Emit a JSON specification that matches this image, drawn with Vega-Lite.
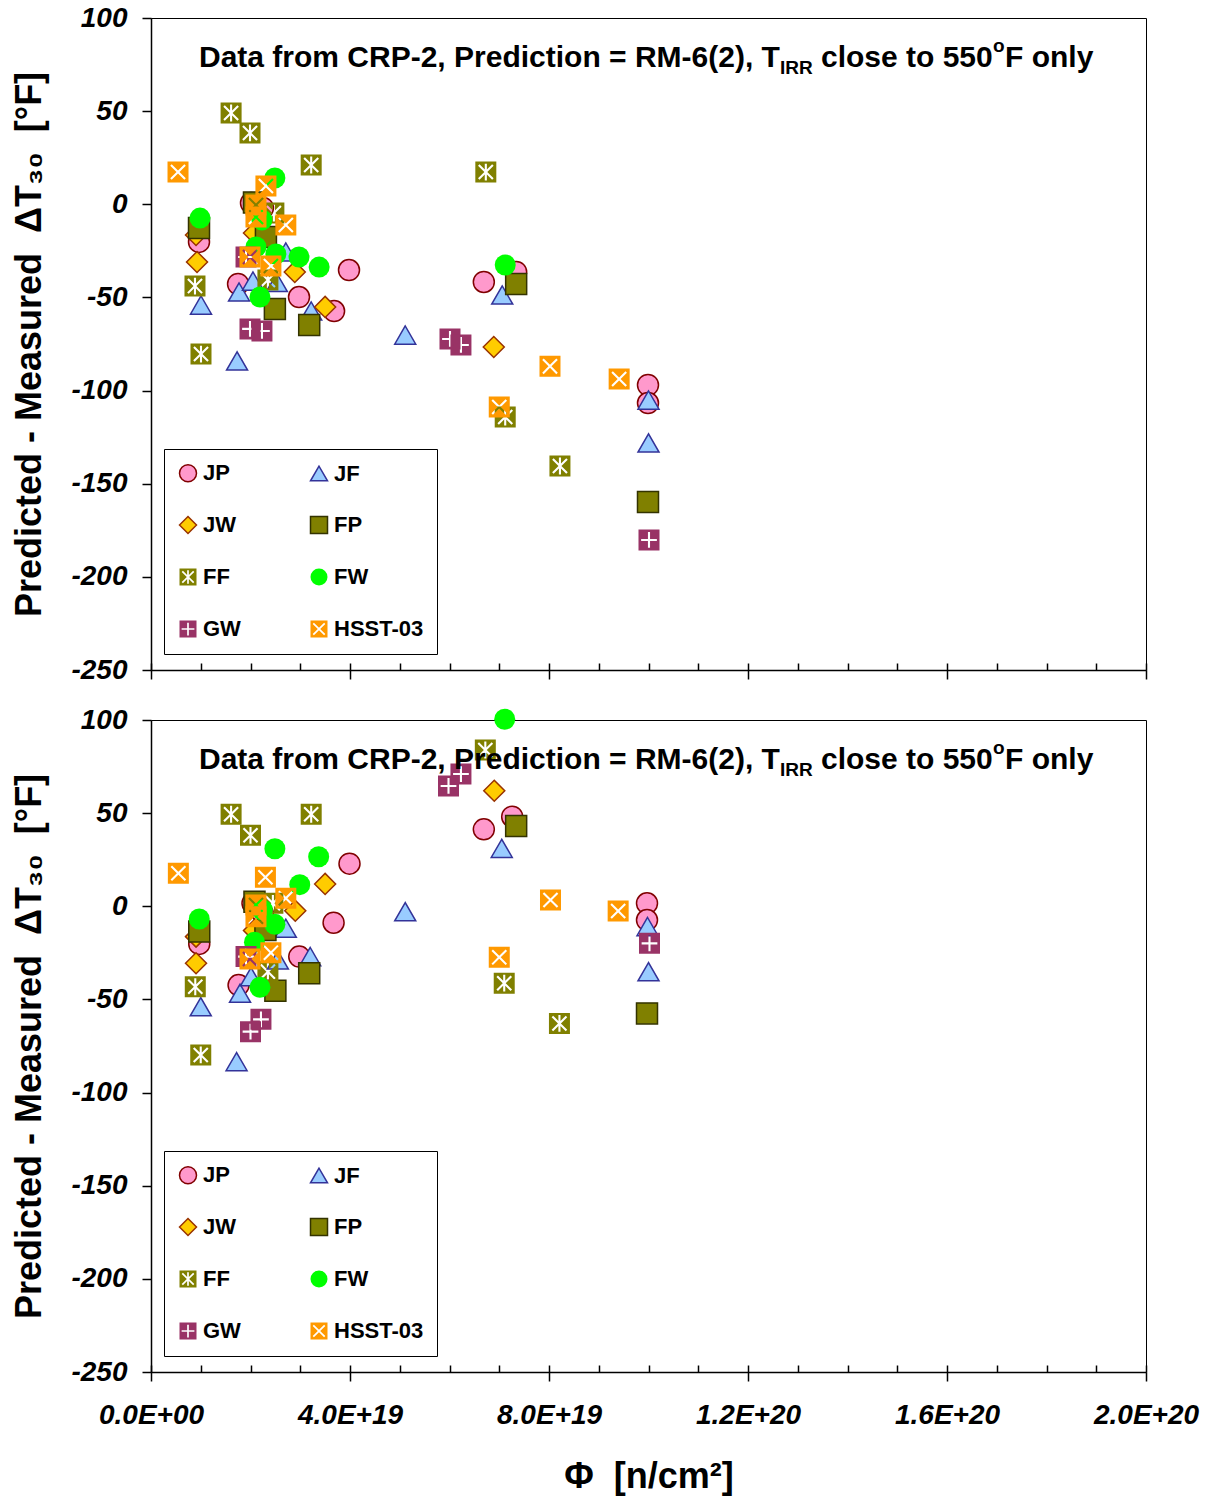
{
  "$schema": "https://vega.github.io/schema/vega-lite/v6.json",
  "autosize": {"type": "pad"},
  "padding": {"left": 11, "top": 3, "right": 13, "bottom": 3},
  "background": "white",
  "spacing": 20,
  "config": {
    "font": "Liberation Sans",
    "view": {"stroke": "black", "strokeWidth": 1},
    "axis": {
      "grid": false,
      "labelFlush": false,
      "domainColor": "black",
      "domainWidth": 1.5,
      "tickColor": "black",
      "tickWidth": 1.5,
      "labelColor": "black",
      "labelFont": "Liberation Sans",
      "labelFontSize": 28,
      "labelFontStyle": "italic",
      "labelFontWeight": "bold",
      "titleColor": "black",
      "titleFont": "Liberation Sans",
      "titleFontWeight": "bold"
    }
  },
  "resolve": {
    "scale": {"x": "independent", "y": "independent", "fill": "independent", "stroke": "independent", "shape": "independent"},
    "axis": {"x": "independent", "y": "independent"},
    "legend": {"fill": "independent", "stroke": "independent", "shape": "independent"}
  },
  "datasets": {
    "top": [
      {"s": "JP", "phi": 2.01e19, "d": 0.7}, {"s": "JP", "phi": 2.25e19, "d": -2.0}, {"s": "JP", "phi": 0.965e19, "d": -20.2}, {"s": "JP", "phi": 1.75e19, "d": -42.8}, {"s": "JP", "phi": 2.975e19, "d": -49.8}, {"s": "JP", "phi": 3.68e19, "d": -57.3}, {"s": "JP", "phi": 3.98e19, "d": -35.3}, {"s": "JP", "phi": 6.69e19, "d": -41.7}, {"s": "JP", "phi": 7.34e19, "d": -36.3}, {"s": "JP", "phi": 9.99e19, "d": -97.0}, {"s": "JP", "phi": 9.99e19, "d": -106.7},
      {"s": "JF", "phi": 1.005e19, "d": -54.1}, {"s": "JF", "phi": 1.73e19, "d": -84.1}, {"s": "JF", "phi": 1.77e19, "d": -47.1}, {"s": "JF", "phi": 2.05e19, "d": -41.2}, {"s": "JF", "phi": 2.53e19, "d": -42.0}, {"s": "JF", "phi": 2.71e19, "d": -25.6}, {"s": "JF", "phi": 3.22e19, "d": -57.3}, {"s": "JF", "phi": 5.11e19, "d": -70.2}, {"s": "JF", "phi": 7.06e19, "d": -48.7}, {"s": "JF", "phi": 10.0e19, "d": -105.1}, {"s": "JF", "phi": 10.0e19, "d": -128.1},
      {"s": "JW", "phi": 0.905e19, "d": -16.5}, {"s": "JW", "phi": 0.925e19, "d": -31.0}, {"s": "JW", "phi": 2.07e19, "d": -15.4}, {"s": "JW", "phi": 2.89e19, "d": -36.3}, {"s": "JW", "phi": 3.5e19, "d": -55.1}, {"s": "JW", "phi": 6.89e19, "d": -76.6},
      {"s": "FP", "phi": 0.965e19, "d": -12.7}, {"s": "FP", "phi": 2.07e19, "d": 1.0}, {"s": "FP", "phi": 2.31e19, "d": -17.6}, {"s": "FP", "phi": 2.49e19, "d": -56.2}, {"s": "FP", "phi": 3.18e19, "d": -64.8}, {"s": "FP", "phi": 7.34e19, "d": -42.8}, {"s": "FP", "phi": 9.99e19, "d": -159.8},
      {"s": "FF", "phi": 1.61e19, "d": 49.0}, {"s": "FF", "phi": 1.99e19, "d": 38.3}, {"s": "FF", "phi": 3.22e19, "d": 21.1}, {"s": "FF", "phi": 6.73e19, "d": 17.3}, {"s": "FF", "phi": 0.884e19, "d": -43.9}, {"s": "FF", "phi": 1.005e19, "d": -80.4}, {"s": "FF", "phi": 2.35e19, "d": -40.6}, {"s": "FF", "phi": 2.47e19, "d": -4.7}, {"s": "FF", "phi": 7.12e19, "d": -114.2}, {"s": "FF", "phi": 8.22e19, "d": -140.5},
      {"s": "FW", "phi": 0.985e19, "d": -7.4}, {"s": "FW", "phi": 2.49e19, "d": 14.1}, {"s": "FW", "phi": 2.23e19, "d": -8.4}, {"s": "FW", "phi": 2.11e19, "d": -22.9}, {"s": "FW", "phi": 2.51e19, "d": -26.7}, {"s": "FW", "phi": 2.975e19, "d": -28.3}, {"s": "FW", "phi": 3.38e19, "d": -33.7}, {"s": "FW", "phi": 2.19e19, "d": -49.8}, {"s": "FW", "phi": 7.12e19, "d": -32.6},
      {"s": "GW", "phi": 1.91e19, "d": -28.3}, {"s": "GW", "phi": 1.99e19, "d": -66.9}, {"s": "GW", "phi": 2.23e19, "d": -68.0}, {"s": "GW", "phi": 6.01e19, "d": -72.3}, {"s": "GW", "phi": 6.23e19, "d": -75.5}, {"s": "GW", "phi": 10.01e19, "d": -180.2},
      {"s": "HSST-03", "phi": 0.543e19, "d": 17.3}, {"s": "HSST-03", "phi": 2.31e19, "d": 9.8}, {"s": "HSST-03", "phi": 2.11e19, "d": -0.4}, {"s": "HSST-03", "phi": 2.11e19, "d": -6.8}, {"s": "HSST-03", "phi": 2.71e19, "d": -11.1}, {"s": "HSST-03", "phi": 2.41e19, "d": -33.1}, {"s": "HSST-03", "phi": 1.99e19, "d": -28.3}, {"s": "HSST-03", "phi": 8.02e19, "d": -87.0}, {"s": "HSST-03", "phi": 7.0e19, "d": -108.8}, {"s": "HSST-03", "phi": 9.41e19, "d": -93.8}
    ],
    "bottom": [
      {"s": "JP", "phi": 2.04e19, "d": 1.6}, {"s": "JP", "phi": 2.25e19, "d": -4.0}, {"s": "JP", "phi": 0.97e19, "d": -20.2}, {"s": "JP", "phi": 1.76e19, "d": -42.3}, {"s": "JP", "phi": 2.98e19, "d": -27.0}, {"s": "JP", "phi": 3.67e19, "d": -8.8}, {"s": "JP", "phi": 3.99e19, "d": 22.9}, {"s": "JP", "phi": 6.69e19, "d": 41.3}, {"s": "JP", "phi": 7.26e19, "d": 48.1}, {"s": "JP", "phi": 9.97e19, "d": 1.6}, {"s": "JP", "phi": 9.97e19, "d": -7.4},
      {"s": "JF", "phi": 1.0e19, "d": -53.9}, {"s": "JF", "phi": 1.72e19, "d": -83.4}, {"s": "JF", "phi": 1.79e19, "d": -46.7}, {"s": "JF", "phi": 2.01e19, "d": -37.8}, {"s": "JF", "phi": 2.55e19, "d": -28.8}, {"s": "JF", "phi": 2.71e19, "d": -11.8}, {"s": "JF", "phi": 3.2e19, "d": -27.0}, {"s": "JF", "phi": 5.11e19, "d": -2.9}, {"s": "JF", "phi": 7.05e19, "d": 31.1}, {"s": "JF", "phi": 9.98e19, "d": -10.9}, {"s": "JF", "phi": 10.0e19, "d": -35.1},
      {"s": "JW", "phi": 0.905e19, "d": -16.3}, {"s": "JW", "phi": 0.905e19, "d": -30.6}, {"s": "JW", "phi": 2.07e19, "d": -13.0}, {"s": "JW", "phi": 2.9e19, "d": -2.4}, {"s": "JW", "phi": 3.5e19, "d": 12.0}, {"s": "JW", "phi": 6.9e19, "d": 62.0},
      {"s": "FP", "phi": 0.97e19, "d": -13.6}, {"s": "FP", "phi": 2.08e19, "d": 2.5}, {"s": "FP", "phi": 2.3e19, "d": -12.7}, {"s": "FP", "phi": 2.5e19, "d": -45.3}, {"s": "FP", "phi": 3.18e19, "d": -36.0}, {"s": "FP", "phi": 7.34e19, "d": 43.1}, {"s": "FP", "phi": 9.97e19, "d": -57.5},
      {"s": "FF", "phi": 1.61e19, "d": 49.4}, {"s": "FF", "phi": 2.0e19, "d": 38.1}, {"s": "FF", "phi": 3.22e19, "d": 49.4}, {"s": "FF", "phi": 6.72e19, "d": 83.9}, {"s": "FF", "phi": 0.89e19, "d": -43.2}, {"s": "FF", "phi": 1.0e19, "d": -79.8}, {"s": "FF", "phi": 2.35e19, "d": -35.1}, {"s": "FF", "phi": 2.45e19, "d": 1.6}, {"s": "FF", "phi": 7.1e19, "d": -41.3}, {"s": "FF", "phi": 8.21e19, "d": -62.9},
      {"s": "FW", "phi": 0.97e19, "d": -6.8}, {"s": "FW", "phi": 2.49e19, "d": 30.9}, {"s": "FW", "phi": 3.37e19, "d": 26.6}, {"s": "FW", "phi": 2.99e19, "d": 11.6}, {"s": "FW", "phi": 2.49e19, "d": -9.7}, {"s": "FW", "phi": 2.08e19, "d": -19.3}, {"s": "FW", "phi": 2.19e19, "d": -43.5}, {"s": "FW", "phi": 7.11e19, "d": 100.4}, {"s": "FW", "phi": 2.24e19, "d": -2.0},
      {"s": "GW", "phi": 1.91e19, "d": -27.0}, {"s": "GW", "phi": 2.0e19, "d": -67.3}, {"s": "GW", "phi": 2.21e19, "d": -60.7}, {"s": "GW", "phi": 5.98e19, "d": 64.6}, {"s": "GW", "phi": 6.23e19, "d": 71.0}, {"s": "GW", "phi": 10.02e19, "d": -19.9},
      {"s": "HSST-03", "phi": 0.55e19, "d": 17.7}, {"s": "HSST-03", "phi": 2.3e19, "d": 15.6}, {"s": "HSST-03", "phi": 2.11e19, "d": 0.7}, {"s": "HSST-03", "phi": 2.11e19, "d": -5.6}, {"s": "HSST-03", "phi": 2.71e19, "d": 4.3}, {"s": "HSST-03", "phi": 2.41e19, "d": -24.9}, {"s": "HSST-03", "phi": 1.99e19, "d": -28.3}, {"s": "HSST-03", "phi": 8.03e19, "d": 3.4}, {"s": "HSST-03", "phi": 7.0e19, "d": -27.4}, {"s": "HSST-03", "phi": 9.39e19, "d": -2.5}
    ]
  },
  "vconcat": [
    {
      "width": 995,
      "height": 652,
      "resolve": {"axis": {"x": "independent", "y": "independent"}},
      "layer": [
        {
          "data": {"name": "top"},
          "mark": {"type": "point", "filled": true, "size": 441, "strokeWidth": 1.5, "opacity": 1},
          "encoding": {
            "x": {
              "field": "phi", "type": "quantitative",
              "scale": {"domain": [0, 2e20], "nice": false, "zero": false},
              "axis": {
                "orient": "bottom",
                "values": [0, 4e19, 8e19, 1.2e20, 1.6e20, 2e20],
                "labels": false,
                "title": null,
                "tickSize": 9
              }
            },
            "y": {
              "field": "d", "type": "quantitative",
              "scale": {"domain": [-250, 100], "nice": false, "zero": false},
              "axis": {
                "orient": "left",
                "values": [-250, -200, -150, -100, -50, 0, 50, 100],
                "labelExpr": "datum.value < 0 ? '-' + abs(datum.value) : '' + datum.value",
                "title": "Predicted - Measured \u00a0ΔT₃₀ \u00a0[°F]",
                "titleFontSize": 36,
                "titlePadding": 22,
                "labelPadding": 15,
                "tickSize": 9
              }
            },
            "fill": {
              "field": "s", "type": "nominal",
              "scale": {"domain": ["JP", "JW", "FF", "GW", "JF", "FP", "FW", "HSST-03"], "range": ["#FF99CC", "#FFCC00", "#808000", "#993366", "#99CCFF", "#808000", "#00FF00", "#FF9900"]},
              "legend": {"title": null, "orient": "none", "legendX": 13, "legendY": 431, "columns": 2, "columnPadding": 66, "rowPadding": 28, "padding": 13, "strokeColor": "black", "fillColor": "white", "symbolSize": 289, "symbolStrokeWidth": 1.5, "labelFont": "Liberation Sans", "labelFontSize": 22, "labelFontWeight": "bold", "labelColor": "black", "labelOffset": 4}
            },
            "stroke": {
              "field": "s", "type": "nominal",
              "scale": {"domain": ["JP", "JW", "FF", "GW", "JF", "FP", "FW", "HSST-03"], "range": ["#800000", "#993300", "transparent", "transparent", "#333399", "#333300", "transparent", "transparent"]},
              "legend": {"title": null}
            },
            "shape": {
              "field": "s", "type": "nominal",
              "scale": {"domain": ["JP", "JW", "FF", "GW", "JF", "FP", "FW", "HSST-03"], "range": ["circle", "diamond", "M-1,-1L1,-1L1,1L-1,1Z M0.141,0L0.743,-0.601L0.601,-0.743L0.1,-0.241L0.1,-0.8L-0.1,-0.8L-0.1,-0.241L-0.601,-0.743L-0.743,-0.601L-0.141,0L-0.743,0.601L-0.601,0.743L-0.1,0.241L-0.1,0.8L0.1,0.8L0.1,0.241L0.601,0.743L0.743,0.601Z", "M-1,-1L1,-1L1,1L-1,1Z M-0.1,-0.1L-0.75,-0.1L-0.75,0.1L-0.1,0.1L-0.1,0.75L0.1,0.75L0.1,0.1L0.75,0.1L0.75,-0.1L0.1,-0.1L0.1,-0.75L-0.1,-0.75Z", "triangle-up", "square", "circle", "M-1,-1L1,-1L1,1L-1,1Z M0,-0.141L-0.601,-0.742L-0.742,-0.601L-0.141,0L-0.742,0.601L-0.601,0.742L0,0.141L0.601,0.742L0.742,0.601L0.141,0L0.742,-0.601L0.601,-0.742Z"]},
              "legend": {"title": null}
            }
          }
        },
        {
          "data": {"values": [{}]},
          "mark": {"type": "text", "text": "Data from CRP-2, Prediction = RM-6(2), T", "align": "left", "baseline": "alphabetic", "font": "Liberation Sans", "fontSize": 30, "fontWeight": "bold", "color": "black"},
          "encoding": {
            "x": {"datum": 9.648e18, "type": "quantitative", "axis": {"orient": "bottom", "values": [0, 1e19, 2e19, 3e19, 4e19, 5e19, 6e19, 7e19, 8e19, 9e19, 1e20, 1.1e20, 1.2e20, 1.3e20, 1.4e20, 1.5e20, 1.6e20, 1.7e20, 1.8e20, 1.9e20, 2e20], "labels": false, "domain": false, "title": null, "tickSize": -7}},
            "y": {"datum": 73.7, "type": "quantitative", "axis": null}
          }
        },
        {
          "data": {"values": [{}]},
          "mark": {"type": "text", "text": "IRR", "align": "left", "baseline": "alphabetic", "font": "Liberation Sans", "fontSize": 19, "fontWeight": "bold", "color": "black"},
          "encoding": {"x": {"datum": 1.2643e20, "type": "quantitative", "axis": null}, "y": {"datum": 69.9, "type": "quantitative", "axis": null}}
        },
        {
          "data": {"values": [{}]},
          "mark": {"type": "text", "text": "close to 550", "align": "left", "baseline": "alphabetic", "font": "Liberation Sans", "fontSize": 30, "fontWeight": "bold", "color": "black"},
          "encoding": {"x": {"datum": 1.3467e20, "type": "quantitative", "axis": null}, "y": {"datum": 73.7, "type": "quantitative", "axis": null}}
        },
        {
          "data": {"values": [{}]},
          "mark": {"type": "text", "text": "o", "align": "left", "baseline": "alphabetic", "font": "Liberation Sans", "fontSize": 19, "fontWeight": "bold", "color": "black"},
          "encoding": {"x": {"datum": 1.6925e20, "type": "quantitative", "axis": null}, "y": {"datum": 81.7, "type": "quantitative", "axis": null}}
        },
        {
          "data": {"values": [{}]},
          "mark": {"type": "text", "text": "F only", "align": "left", "baseline": "alphabetic", "font": "Liberation Sans", "fontSize": 30, "fontWeight": "bold", "color": "black"},
          "encoding": {"x": {"datum": 1.7166e20, "type": "quantitative", "axis": null}, "y": {"datum": 73.7, "type": "quantitative", "axis": null}}
        }
      ]
    },
    {
      "width": 995,
      "height": 652,
      "resolve": {"axis": {"x": "independent", "y": "independent"}},
      "layer": [
        {
          "data": {"name": "bottom"},
          "mark": {"type": "point", "filled": true, "size": 441, "strokeWidth": 1.5, "opacity": 1},
          "encoding": {
            "x": {
              "field": "phi", "type": "quantitative",
              "scale": {"domain": [0, 2e20], "nice": false, "zero": false},
              "axis": {
                "orient": "bottom",
                "values": [0, 4e19, 8e19, 1.2e20, 1.6e20, 2e20],
                "labelExpr": "datum.value == 0 ? '0.0E+00' : upper(format(datum.value, '.1e'))",
                "labelOverlap": false,
                "labelFlush": false,
                "labelPadding": 20,
                "title": "Φ \u00a0[n/cm²]",
                "titleFontSize": 36,
                "titlePadding": 30,
                "tickSize": 9
              }
            },
            "y": {
              "field": "d", "type": "quantitative",
              "scale": {"domain": [-250, 100], "nice": false, "zero": false},
              "axis": {
                "orient": "left",
                "values": [-250, -200, -150, -100, -50, 0, 50, 100],
                "labelExpr": "datum.value < 0 ? '-' + abs(datum.value) : '' + datum.value",
                "title": "Predicted - Measured \u00a0ΔT₃₀ \u00a0[°F]",
                "titleFontSize": 36,
                "titlePadding": 22,
                "labelPadding": 15,
                "tickSize": 9
              }
            },
            "fill": {
              "field": "s", "type": "nominal",
              "scale": {"domain": ["JP", "JW", "FF", "GW", "JF", "FP", "FW", "HSST-03"], "range": ["#FF99CC", "#FFCC00", "#808000", "#993366", "#99CCFF", "#808000", "#00FF00", "#FF9900"]},
              "legend": {"title": null, "orient": "none", "legendX": 13, "legendY": 431, "columns": 2, "columnPadding": 66, "rowPadding": 28, "padding": 13, "strokeColor": "black", "fillColor": "white", "symbolSize": 289, "symbolStrokeWidth": 1.5, "labelFont": "Liberation Sans", "labelFontSize": 22, "labelFontWeight": "bold", "labelColor": "black", "labelOffset": 4}
            },
            "stroke": {
              "field": "s", "type": "nominal",
              "scale": {"domain": ["JP", "JW", "FF", "GW", "JF", "FP", "FW", "HSST-03"], "range": ["#800000", "#993300", "transparent", "transparent", "#333399", "#333300", "transparent", "transparent"]},
              "legend": {"title": null}
            },
            "shape": {
              "field": "s", "type": "nominal",
              "scale": {"domain": ["JP", "JW", "FF", "GW", "JF", "FP", "FW", "HSST-03"], "range": ["circle", "diamond", "M-1,-1L1,-1L1,1L-1,1Z M0.141,0L0.743,-0.601L0.601,-0.743L0.1,-0.241L0.1,-0.8L-0.1,-0.8L-0.1,-0.241L-0.601,-0.743L-0.743,-0.601L-0.141,0L-0.743,0.601L-0.601,0.743L-0.1,0.241L-0.1,0.8L0.1,0.8L0.1,0.241L0.601,0.743L0.743,0.601Z", "M-1,-1L1,-1L1,1L-1,1Z M-0.1,-0.1L-0.75,-0.1L-0.75,0.1L-0.1,0.1L-0.1,0.75L0.1,0.75L0.1,0.1L0.75,0.1L0.75,-0.1L0.1,-0.1L0.1,-0.75L-0.1,-0.75Z", "triangle-up", "square", "circle", "M-1,-1L1,-1L1,1L-1,1Z M0,-0.141L-0.601,-0.742L-0.742,-0.601L-0.141,0L-0.742,0.601L-0.601,0.742L0,0.141L0.601,0.742L0.742,0.601L0.141,0L0.742,-0.601L0.601,-0.742Z"]},
              "legend": {"title": null}
            }
          }
        },
        {
          "data": {"values": [{}]},
          "mark": {"type": "text", "text": "Data from CRP-2, Prediction = RM-6(2), T", "align": "left", "baseline": "alphabetic", "font": "Liberation Sans", "fontSize": 30, "fontWeight": "bold", "color": "black"},
          "encoding": {
            "x": {"datum": 9.648e18, "type": "quantitative", "axis": {"orient": "bottom", "values": [0, 1e19, 2e19, 3e19, 4e19, 5e19, 6e19, 7e19, 8e19, 9e19, 1e20, 1.1e20, 1.2e20, 1.3e20, 1.4e20, 1.5e20, 1.6e20, 1.7e20, 1.8e20, 1.9e20, 2e20], "labels": false, "domain": false, "title": null, "tickSize": -7}},
            "y": {"datum": 73.7, "type": "quantitative", "axis": null}
          }
        },
        {
          "data": {"values": [{}]},
          "mark": {"type": "text", "text": "IRR", "align": "left", "baseline": "alphabetic", "font": "Liberation Sans", "fontSize": 19, "fontWeight": "bold", "color": "black"},
          "encoding": {"x": {"datum": 1.2643e20, "type": "quantitative", "axis": null}, "y": {"datum": 69.9, "type": "quantitative", "axis": null}}
        },
        {
          "data": {"values": [{}]},
          "mark": {"type": "text", "text": "close to 550", "align": "left", "baseline": "alphabetic", "font": "Liberation Sans", "fontSize": 30, "fontWeight": "bold", "color": "black"},
          "encoding": {"x": {"datum": 1.3467e20, "type": "quantitative", "axis": null}, "y": {"datum": 73.7, "type": "quantitative", "axis": null}}
        },
        {
          "data": {"values": [{}]},
          "mark": {"type": "text", "text": "o", "align": "left", "baseline": "alphabetic", "font": "Liberation Sans", "fontSize": 19, "fontWeight": "bold", "color": "black"},
          "encoding": {"x": {"datum": 1.6925e20, "type": "quantitative", "axis": null}, "y": {"datum": 81.7, "type": "quantitative", "axis": null}}
        },
        {
          "data": {"values": [{}]},
          "mark": {"type": "text", "text": "F only", "align": "left", "baseline": "alphabetic", "font": "Liberation Sans", "fontSize": 30, "fontWeight": "bold", "color": "black"},
          "encoding": {"x": {"datum": 1.7166e20, "type": "quantitative", "axis": null}, "y": {"datum": 73.7, "type": "quantitative", "axis": null}}
        }
      ]
    }
  ]
}
